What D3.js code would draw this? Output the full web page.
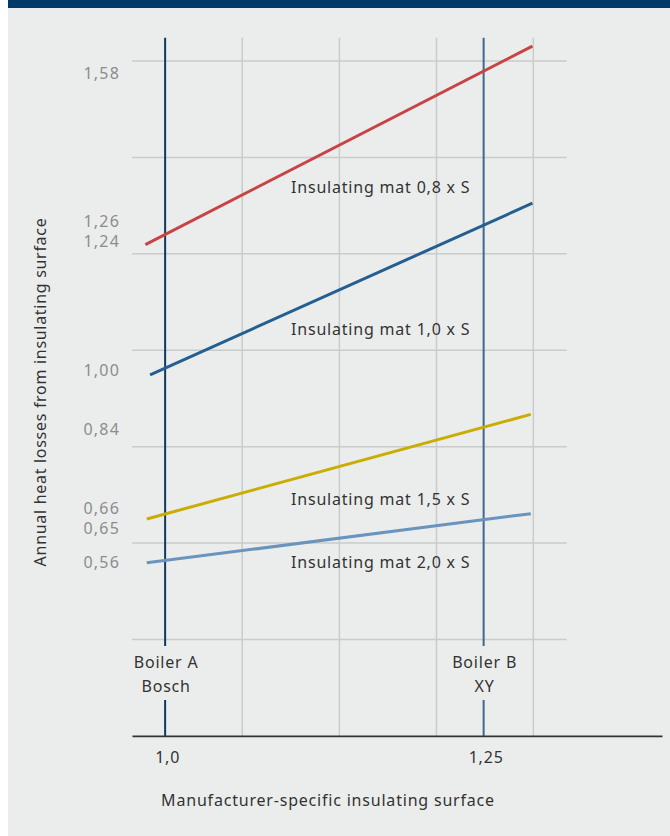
<!DOCTYPE html>
<html>
<head>
<meta charset="utf-8">
<script src="https://cdn.jsdelivr.net/npm/d3@7"></script>
<style>
  html, body { margin: 0; padding: 0; background: #ffffff; }
  svg { display: block; }
  text { font-family: "Noto Sans", "Open Sans", sans-serif; }
</style>
</head>
<body>
<svg id="chart" width="670" height="836"></svg>
<script>
// ---------------- data ----------------
const seriesNames = ["Insulating mat 0,8 x S", "Insulating mat 1,0 x S", "Insulating mat 1,5 x S", "Insulating mat 2,0 x S"];
const seriesStartX = [0.9845, 0.9882, 0.9856, 0.9856];
const seriesEndX   = [1.2883, 1.2883, 1.2870, 1.2870];
const seriesStartY = [1.219, 0.949, 0.650, 0.559];
const seriesEndY   = [1.631, 1.305, 0.867, 0.661];
const labelsAtA = ["1,24", "1,00", "0,66", "0,56"];
const labelsAtB = ["1,58", "1,26", "0,84", "0,65"];
const boilerX = [1.0, 1.25];
const boilerNames = [["Boiler A", "Bosch"], ["Boiler B", "XY"]];
const xTickLabels = ["1,0", "1,25"];
const gridYValues = [0.4, 0.6, 0.8, 1.0, 1.2, 1.4, 1.6];
const gridXValues = [1.0605, 1.1368, 1.2130, 1.2890];
const xTitle = "Manufacturer-specific insulating surface";
const yTitle = "Annual heat losses from insulating surface";

// ---------------- styles ----------------
const seriesColors = ["#c84444", "#255f90", "#c9ad00", "#6a93bd"];
const boilerColors = ["#0c3a64", "#3e6890"];
const svg = d3.select("#chart");

// background
svg.append("rect").attr("x", 8).attr("y", 0).attr("width", 662).attr("height", 836).attr("fill", "#ebeded");
svg.append("rect").attr("x", 8).attr("y", 0).attr("width", 662).attr("height", 8).attr("fill", "#003a68");

// scales
const x = d3.scaleLinear().domain([0.974, 1.39]).range([132, 662]);
const y = d3.scaleLinear().domain([0.4, 1.6]).range([639.5, 61]);
const yBottom = y(0.2);
const yTop = y(1.648);
const gridRight = x(1.3153);

// horizontal grid
svg.append("g").selectAll("line").data(gridYValues).join("line")
  .attr("x1", x.range()[0]).attr("x2", gridRight)
  .attr("y1", d => y(d)).attr("y2", d => y(d))
  .attr("stroke", "#c9cbcc").attr("stroke-width", 1.5);

// vertical grid
svg.append("g").selectAll("line").data(gridXValues).join("line")
  .attr("x1", d => x(d)).attr("x2", d => x(d))
  .attr("y1", yTop).attr("y2", yBottom)
  .attr("stroke", "#c9cbcc").attr("stroke-width", 1.5);

// boiler lines (broken around label)
boilerX.forEach((bx, i) => {
  const g = svg.append("g");
  g.append("line").attr("x1", x(bx)).attr("x2", x(bx)).attr("y1", yTop).attr("y2", 646)
    .attr("stroke", boilerColors[i]).attr("stroke-width", 2);
  g.append("line").attr("x1", x(bx)).attr("x2", x(bx)).attr("y1", 700).attr("y2", yBottom)
    .attr("stroke", boilerColors[i]).attr("stroke-width", 2);
  g.selectAll("text").data(boilerNames[i]).join("text")
    .attr("x", x(bx) + 1).attr("y", (d, j) => 667.5 + j * 24)
    .attr("text-anchor", "middle").attr("font-size", 16).attr("letter-spacing", 0.8)
    .attr("fill", "#333").text(d => d);
});

// x axis
const xAxis = d3.axisBottom(x).tickValues(boilerX).tickSize(0).tickPadding(0)
  .tickFormat((d, i) => xTickLabels[i]);
const gx = svg.append("g").attr("transform", `translate(0,${yBottom})`).call(xAxis);
gx.select(".domain").attr("stroke", "#333").attr("stroke-width", 1.6);
gx.selectAll(".tick text").attr("font-size", 16).attr("letter-spacing", 0.8)
  .attr("fill", "#333").attr("dy", 0).attr("y", 27).attr("dx", 2)
  .style("font-family", '"Noto Sans", sans-serif');

// series lines
const line = d3.line().x(d => x(d[0])).y(d => y(d[1]));
const interp = (i, xv) => {
  const t = (xv - seriesStartX[i]) / (seriesEndX[i] - seriesStartX[i]);
  return seriesStartY[i] + t * (seriesEndY[i] - seriesStartY[i]);
};
seriesNames.forEach((name, i) => {
  svg.append("path")
    .datum([[seriesStartX[i], seriesStartY[i]], [seriesEndX[i], seriesEndY[i]]])
    .attr("d", line).attr("fill", "none")
    .attr("stroke", seriesColors[i]).attr("stroke-width", 3);
});

// series inline labels
const seriesLabelX = x(1.0988);
const seriesLabelPos = [1.326, 1.032, 0.679, 0.548];
svg.append("g").selectAll("text").data(seriesNames).join("text")
  .attr("x", seriesLabelX).attr("y", (d, i) => y(seriesLabelPos[i]))
  .attr("font-size", 16).attr("letter-spacing", 0.8).attr("fill", "#333")
  .text(d => d);

// y value labels (values at boilers)
let vlabels = [];
seriesNames.forEach((n, i) => {
  vlabels.push({ text: labelsAtA[i], v: parseFloat(labelsAtA[i].replace(",", ".")), py: y(interp(i, boilerX[0])) });
  vlabels.push({ text: labelsAtB[i], v: parseFloat(labelsAtB[i].replace(",", ".")), py: y(interp(i, boilerX[1])) });
});
vlabels.sort((a, b) => b.v - a.v);
for (let k = 0; k < vlabels.length - 1; k++) {
  const a = vlabels[k], b = vlabels[k + 1];
  if (Math.abs(a.py - b.py) < 20) {
    const m = (a.py + b.py) / 2;
    a.py = m - 10; b.py = m + 10;
  }
}
svg.append("g").selectAll("text").data(vlabels).join("text")
  .attr("x", 120).attr("y", d => d.py + 7.5)
  .attr("text-anchor", "end").attr("font-size", 16).attr("letter-spacing", 1.2)
  .attr("fill", "#8c8c8c").text(d => d.text);

// axis titles
svg.append("text").attr("x", 328).attr("y", 806).attr("text-anchor", "middle")
  .attr("font-size", 16).attr("letter-spacing", 0.8).attr("fill", "#333").text(xTitle);
svg.append("text").attr("transform", "translate(46,392) rotate(-90)").attr("text-anchor", "middle")
  .attr("font-size", 16).attr("letter-spacing", 0.7).attr("fill", "#333").text(yTitle);
</script>
</body>
</html>
